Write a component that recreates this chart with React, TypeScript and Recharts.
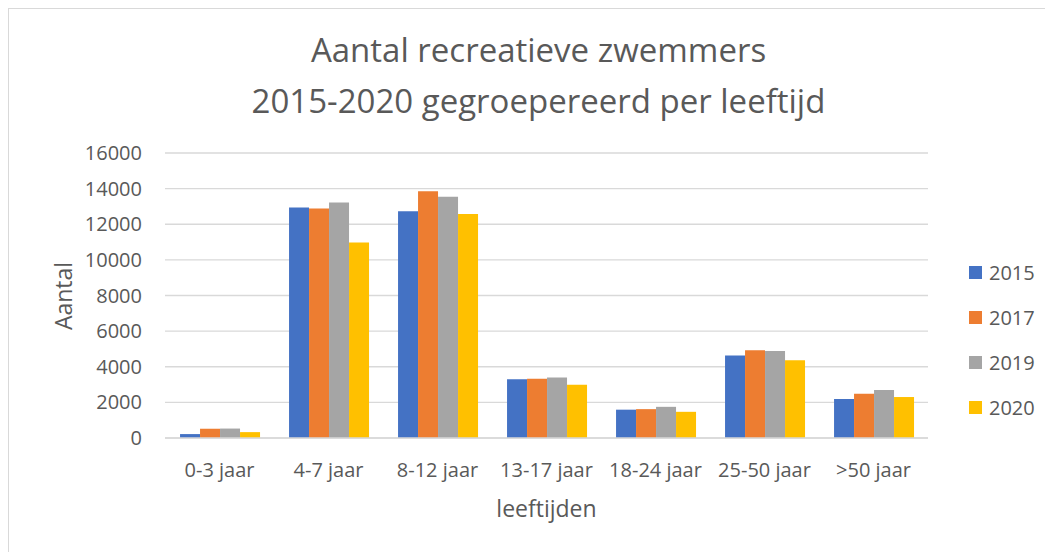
import { BarChart, Bar, XAxis, YAxis, CartesianGrid } from 'recharts'

const leeftijden = ['0-3 jaar', '4-7 jaar', '8-12 jaar', '13-17 jaar', '18-24 jaar', '25-50 jaar', '>50 jaar']
const jaren = ['2015', '2017', '2019', '2020']
const zwemmers2015 = [220, 12940, 12730, 3300, 1590, 4630, 2190]
const zwemmers2017 = [520, 12880, 13850, 3320, 1620, 4930, 2480]
const zwemmers2019 = [530, 13220, 13540, 3400, 1750, 4890, 2690]
const zwemmers2020 = [330, 10980, 12570, 2990, 1470, 4370, 2300]
const yTicks = [0, 2000, 4000, 6000, 8000, 10000, 12000, 14000, 16000]

const KLEUREN = ['#4472C4', '#ED7D31', '#A5A5A5', '#FFC000']
const TEKST = '#595959'
const FONT = '"Open Sans", "Noto Sans", sans-serif'

const data = leeftijden.map((l, i) => ({
  leeftijd: l,
  '2015': zwemmers2015[i],
  '2017': zwemmers2017[i],
  '2019': zwemmers2019[i],
  '2020': zwemmers2020[i],
}))

// legenda rechts, verticaal gestapeld (buiten de grafiek zodat de plot niet krimpt)
function Legenda() {
  return (
    <div style={{ position: 'absolute', left: 960, top: 241 }}>
      {jaren.map((j, i) => (
        <div key={j} style={{ height: 45, display: 'flex', alignItems: 'center' }}>
          <span style={{ width: 13, height: 13, background: KLEUREN[i], display: 'inline-block', marginRight: 7 }} />
          <span style={{ fontSize: 20, color: TEKST, lineHeight: '20px' }}>{j}</span>
        </div>
      ))}
    </div>
  )
}

export default function App() {
  return (
    <div
      style={{
        position: 'relative',
        width: 1045,
        height: 560,
        border: '1px solid #d9d9d9',
        fontFamily: FONT,
        background: '#fff',
      }}
    >
      <div
        style={{
          position: 'absolute',
          top: 15,
          left: 7,
          width: 1045,
          textAlign: 'center',
          fontSize: 33,
          lineHeight: '51px',
          color: TEKST,
        }}
      >
        Aantal recreatieve zwemmers
        <br />
        2015-2020 gegroepereerd per leeftijd
      </div>
      <BarChart
        width={1045}
        height={545}
        data={data}
        margin={{ top: 144, right: 126, left: 96, bottom: 86 }}
        barCategoryGap="13.8%"
        barGap={0}
      >
        <CartesianGrid vertical={false} stroke="#d9d9d9" strokeWidth={1.3} />
        <XAxis
          dataKey="leeftijd"
          height={30}
          tickLine={false}
          tickSize={0}
          tickMargin={25}
          axisLine={{ stroke: '#d9d9d9', strokeWidth: 1.3 }}
          tick={{ fill: TEKST, fontSize: 20 }}
          interval={0}
          label={{
            content: ({ viewBox }: any) => (
              <text x={viewBox.x + viewBox.width / 2} y={508} textAnchor="middle" fill={TEKST} fontSize={23}>
                leeftijden
              </text>
            ),
          }}
        />
        <YAxis
          width={60}
          domain={[0, 16000]}
          ticks={yTicks}
          interval={0}
          axisLine={false}
          tickLine={false}
          tickSize={0}
          tickMargin={23}
          tick={{ fill: TEKST, fontSize: 20 }}
          label={{
            content: () => (
              <text x={63} y={287} transform="rotate(-90, 63, 287)" textAnchor="middle" fill={TEKST} fontSize={23}>
                Aantal
              </text>
            ),
          }}
        />
        {jaren.map((j, i) => (
          <Bar key={j} dataKey={j} fill={KLEUREN[i]} isAnimationActive={false} />
        ))}
      </BarChart>
      <Legenda />
    </div>
  )
}
